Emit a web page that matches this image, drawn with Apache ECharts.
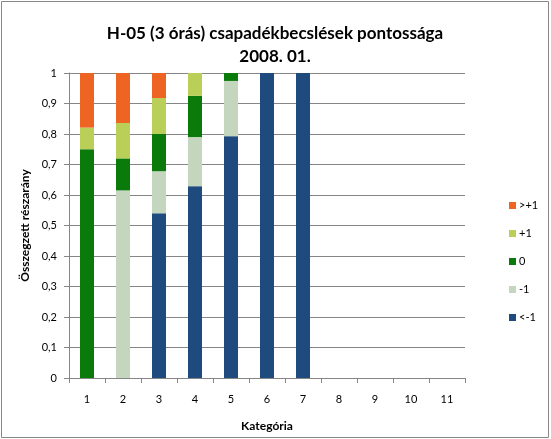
<!DOCTYPE html>
<html>
<head>
<meta charset="utf-8">
<script src="https://cdn.jsdelivr.net/npm/echarts@6/dist/echarts.min.js"></script>
<style>
html,body{margin:0;padding:0;background:#fff;}
#c{width:551px;height:439px;}
</style>
</head>
<body>
<div id="c"></div>
<script>
var categories = ['1','2','3','4','5','6','7','8','9','10','11'];
var seriesNames = ['<-1','-1','0','+1','>+1'];
var vLtMinus1 = [0, 0, 0.540, 0.629, 0.793, 1, 1, null, null, null, null];
var vMinus1   = [0, 0.615, 0.138, 0.161, 0.181, 0, 0, null, null, null, null];
var vZero     = [0.750, 0.105, 0.122, 0.135, 0.026, 0, 0, null, null, null, null];
var vPlus1    = [0.071, 0.116, 0.118, 0.075, 0, 0, 0, null, null, null, null];
var vGtPlus1  = [0.179, 0.164, 0.082, 0, 0, 0, 0, null, null, null, null];
var colors = ['#1F4A7E', '#C4D7BE', '#0A7A0A', '#BACF58', '#EE6422'];
var legendOrder = ['>+1','+1','0','-1','<-1'];

var values = [vLtMinus1, vMinus1, vZero, vPlus1, vGtPlus1];
var font = 'Lato, "Open Sans", sans-serif';

var chart = echarts.init(document.getElementById('c'), null, {renderer:'canvas'});
chart.setOption({
  animation: false,
  backgroundColor: '#fff',
  textStyle: {fontFamily: font},
  title: {
    text: 'H-05 (3 órás) csapadékbecslések pontossága\n2008. 01.',
    left: 270, top: 17, textAlign: 'center',
    textStyle: {fontFamily: font, fontSize: 17, fontWeight: 'bold', color: '#000', lineHeight: 23}
  },
  graphic: [{
    type: 'rect', shape: {x: 1.5, y: 1.5, width: 547, height: 436},
    style: {fill: 'none', stroke: '#878787', lineWidth: 1}, silent: true
  }],
  legend: {
    orient: 'vertical', left: 504, top: 195,
    data: legendOrder,
    itemWidth: 7, itemHeight: 7, itemGap: 17,
    icon: 'rect',
    textStyle: {fontFamily: font, fontSize: 11, color: '#000', padding: [0,0,0,-2]}
  },
  grid: {left: 69, right: 86, top: 73, bottom: 61},
  xAxis: {
    type: 'category', data: categories,
    name: 'Kategória', nameLocation: 'middle', nameGap: 42,
    nameTextStyle: {fontFamily: font, fontSize: 12, fontWeight: 'bold', color: '#000'},
    axisLine: {lineStyle: {color: '#868686'}},
    axisTick: {show: true, length: 5, alignWithLabel: false, lineStyle: {color: '#868686'}},
    axisLabel: {fontFamily: font, fontSize: 11, color: '#000', margin: 16}
  },
  yAxis: {
    type: 'value', min: 0, max: 1, interval: 0.1,
    name: 'Összegzett részarány', nameLocation: 'middle', nameGap: 38,
    nameTextStyle: {fontFamily: font, fontSize: 12, fontWeight: 'bold', color: '#000'},
    axisLine: {show: true, lineStyle: {color: '#868686'}},
    axisTick: {show: true, length: 5, lineStyle: {color: '#868686'}},
    axisLabel: {fontFamily: font, fontSize: 11, color: '#000', margin: 12,
      formatter: function(v){ return String(Math.round(v*10)/10).replace('.', ','); }},
    splitLine: {lineStyle: {color: '#868686', width: 1}}
  },
  series: seriesNames.map(function(n, i){
    return {
      name: n, type: 'bar', stack: 'all', data: values[i],
      barWidth: 14,
      itemStyle: {color: colors[i]},
      emphasis: {disabled: true}
    };
  })
});
</script>
</body>
</html>
